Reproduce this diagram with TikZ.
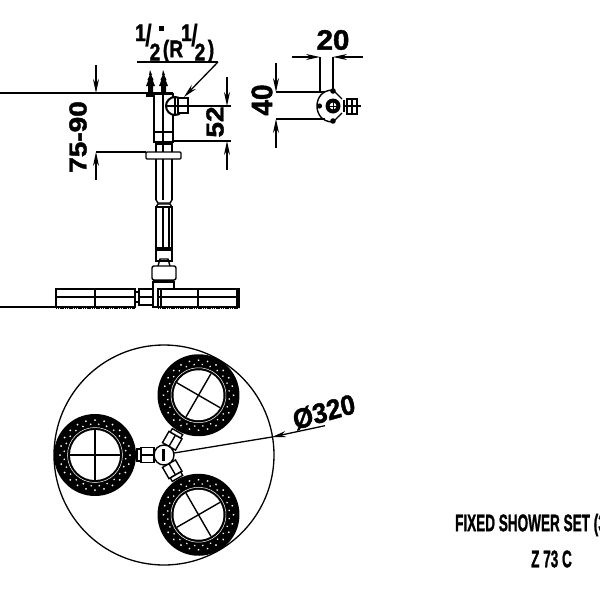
\documentclass[tikz,border=0pt]{standalone}
\usepackage{fontspec}
\setmainfont{Liberation Sans}
\newfontfamily\heavyfont{Liberation Sans Bold}[FakeBold=1.6]
\newfontfamily\slashfont{Liberation Sans Bold}
\newcommand{\bigslash}{\kern-1pt\raisebox{-5pt}{\slashfont\fontsize{31}{31}\selectfont /}}
\usetikzlibrary{arrows.meta}
\tikzset{
    thinline/.style={line width=1.3pt},
    dimline/.style={line width=1.3pt,-{Stealth[length=14pt,width=6pt]}},
    part/.style={line width=1.4pt},
    dimtext/.style={font=\heavyfont\fontsize{28}{28}\selectfont,inner sep=0pt,transform shape,xscale=.88},
    fractext/.style={font=\heavyfont\fontsize{24}{24}\selectfont,inner sep=0pt,transform shape,xscale=.8},
    titletext/.style={font=\heavyfont\fontsize{24}{24}\selectfont,inner sep=0pt,transform shape,xscale=.565}
}
\begin{document}
\begin{tikzpicture}[x=1pt,y=-1pt]
    \useasboundingbox (0,0) rectangle (600,600);

    % front view, pipe
    \draw [part] (154,93)--(154,132) (163,93)--(163,132) (173,93)--(173,132);
    \draw [part] (154,132) rectangle (173,142) (163,132)--(163,142);
    \draw [part] (156,142)--(156,152) (163,142)--(163,152) (172,142)--(172,152);
    \draw [line width=2.4pt] (156,143.5)--(172,143.5);
    \draw [part,rounded corners=1pt,fill=white] (146,152) rectangle (181,159);
    \draw [part] (156,159)--(156,200) (163,159)--(163,200) (172,159)--(172,200);
    \draw [part] (156,200)--(158,203)--(170,203)--(172,200);
    \draw [part] (156,207)--(158,204)--(170,204)--(172,207);
    \draw [part] (156,207) rectangle (172,248) (163,207)--(163,248) (169,207)--(169,248);
    \draw [line width=2.6pt] (156,249)--(172,249);
    \draw [part] (156,250) rectangle (172,261);
    \draw [part] (158,266)--(160,259)--(168,259)--(170,266);
    \draw [part,rounded corners=2pt,fill=white] (152,266) rectangle (176,280);
    \draw [line width=2.6pt] (153,281)--(174,281);
    \draw [part] (153,282) rectangle (174,307);

    % shower heads, side
    \draw [part,fill=white] (158,289) rectangle (239,307) (158,297)--(239,297) (198,289)--(198,307) (161,289)--(161,307);
    \draw [part,fill=white] (56,289) rectangle (135,307) (56,297)--(135,297) (95,289)--(95,307);
    \draw [part] (135,292) rectangle (139,302);
    \draw [part] (139,289) rectangle (153,305) (139,297)--(153,297);
    \draw [line width=1.8pt,dash pattern=on 1.2pt off .6pt] (56,307.8)--(135,307.8) (158,307.8)--(239,307.8);
    \draw [line width=2.4pt] (237.5,289)--(237.5,307);
    \coordinate (headleft) at (56,307);
    \coordinate (edgeleft) at (0,307);
    \draw [thinline] (edgeleft)--(headleft);

    % wall plugs
    \foreach \x in {150,163}{
        \fill (\x,70)--++(2,5)--++(-.8,0)--++(2.4,5)--++(-1,0)--++(2.4,6)--++(-2,0)--++(0,6)--++(-5,0)--++(0,-6)--++(-2,0)--++(2.4,-6)--++(-1,0)--++(2.4,-5)--++(-.8,0)--cycle;
    }
    \draw [line width=3.4pt] (146,95)--(154,95);
    \draw [line width=2.4pt] (154,94)--(173,94);

    % elbow
    \draw [line width=2pt,fill=white] (175,106) circle (9);
    \draw [part,fill=white] (178,98) rectangle (188,113);
    \draw [part] (167,106)--(188,106) (175,97)--(175,115);

    % side dimensions
    \coordinate (walltop) at (173,93);
    \coordinate (wallleft) at (0,93);
    \coordinate (flangeleft) at (146,152);
    \coordinate (flangedim) at (96,152);
    \coordinate (walldim) at (96,93);
    \draw [thinline] (wallleft)--(walltop);
    \draw [thinline] (flangedim)--(flangeleft);
    \coordinate (a1) at (96,65);
    \coordinate (a2) at (96,180);
    \draw [dimline] (a1)--(walldim);
    \draw [dimline] (a2)--(flangedim);
    \node [dimtext,rotate=90] (dimheight) at (78,137) {75-90};

    \coordinate (elbowdim) at (227,106);
    \coordinate (nutdim) at (227,141);
    \coordinate (b1) at (187,106);
    \coordinate (b2) at (172,141);
    \coordinate (b3) at (231,106);
    \coordinate (b4) at (231,141);
    \draw [thinline] (b1)--(b3) (b2)--(b4);
    \coordinate (c1) at (227,77);
    \coordinate (c2) at (227,170);
    \draw [dimline] (c1)--(elbowdim);
    \draw [dimline] (c2)--(nutdim);
    \node [dimtext,rotate=90] (dimelbow) at (215,122) {52};

    % thread label
    \coordinate (l1) at (137,62);
    \coordinate (l2) at (218,62);
    \coordinate (l3) at (184,97);
    \draw [thinline] (l1)--(l2);
    \draw [dimline] (l2)--(l3);
    \node [fractext,anchor=base west] (t1) at (135,41) {1\bigslash};
    \node [fractext] (t3) at (155,52) {2};
    \node [fill=black,inner sep=0pt,minimum size=5pt] (t4) at (161,28) {};
    \node [fractext] (t5) at (173,51) {(R};
    \node [fractext,anchor=base west] (t6) at (181,41) {1\bigslash};
    \node [fractext] (t8) at (200,52) {2};
    \node [fractext] (t9) at (211,51) {)};

    % small top view
    \coordinate (C) at (333,106);
    \draw [part] (342,99)--(333,90)..controls (322,90) and (317,98) .. (317,106) ..controls (317,114) and (322,122) .. (333,122)--(342,113);
    \fill (333,91) circle (2.8) (319.5,106) circle (2.6) (333,121) circle (2.8);
    \fill (C) circle (7.5);
    \fill [white] (C) circle (3.4);
    \draw [line width=.9pt] (329,106)--(337,106) (333,102)--(333,110);
    \draw [line width=2.8pt] (344,100)--(344,112);
    \draw [part] (347,99) rectangle (357,114) (352,99)--(352,114);
    \draw [part] (345,106)--(361,106);

    \coordinate (d1) at (320,57);
    \coordinate (d2) at (333,57);
    \coordinate (d3) at (292,57);
    \coordinate (d4) at (363,57);
    \coordinate (d5) at (320,92);
    \coordinate (d6) at (333,90);
    \draw [thinline] (d1)--(d5) (d2)--(d6);
    \draw [dimline] (d3)--(d1);
    \draw [dimline] (d4)--(d2);
    \node [dimtext,xscale=1.2] (dimwidth) at (333,40) {20};

    \coordinate (e1) at (276,92);
    \coordinate (e2) at (276,119);
    \coordinate (e3) at (276,63);
    \coordinate (e4) at (276,148);
    \coordinate (e5) at (325,92);
    \coordinate (e6) at (325,119);
    \draw [thinline] (e1)--(e5) (e2)--(e6);
    \draw [dimline] (e3)--(e1);
    \draw [dimline] (e4)--(e2);
    \node [dimtext,xscale=1.2,rotate=90] (dimdepth) at (262,100) {40};

    % plan view
    \coordinate (hub) at (164,455);
    \draw [thinline] (hub) circle (110);
    \foreach \ang in {0,120,240}{
        \begin{scope}[shift={(hub)},rotate=\ang]
            \fill (-69,0) circle (41);
            \fill [white] (-69,0) circle (25);
            \draw [white,line width=.5pt] (-69,0) circle (27.5);
            \foreach \t in {0,15,...,345}{
                \fill [white] ([shift={(\t:35)}]-69,0) circle (1);
            }
            \foreach \t in {7,22,...,352}{
                \fill [white] ([shift={(\t:31)}]-69,0) circle (.9);
            }
            \draw [part] (-94,0)--(-44,0) (-69,-25)--(-69,25);
            \draw [part,fill=white] (-23,-7.5) rectangle (-10,7.5) (-23,0)--(-10,0);
            \draw [part,fill=white] (-27,-6) rectangle (-23,6);
        \end{scope}
    }
    \draw [part,fill=white] (hub) circle (10);
    \fill (162,449) rectangle (165,461);

    \coordinate (tip) at (272,437);
    \coordinate (lead) at (325,425.7);
    \coordinate (foot) at (174,453);
    \draw [thinline] (foot)--(tip);
    \draw [dimline] (lead)--(tip);
    \node [dimtext,rotate=14,xscale=1.05] (dimdia) at (324,412) {Ø320};

    % title
    \node [titletext,anchor=west] (title) at (455,525) {FIXED SHOWER SET (3};
    \node [titletext,anchor=center] (code) at (551.5,559) {Z 73 C};
\end{tikzpicture}
\end{document}
